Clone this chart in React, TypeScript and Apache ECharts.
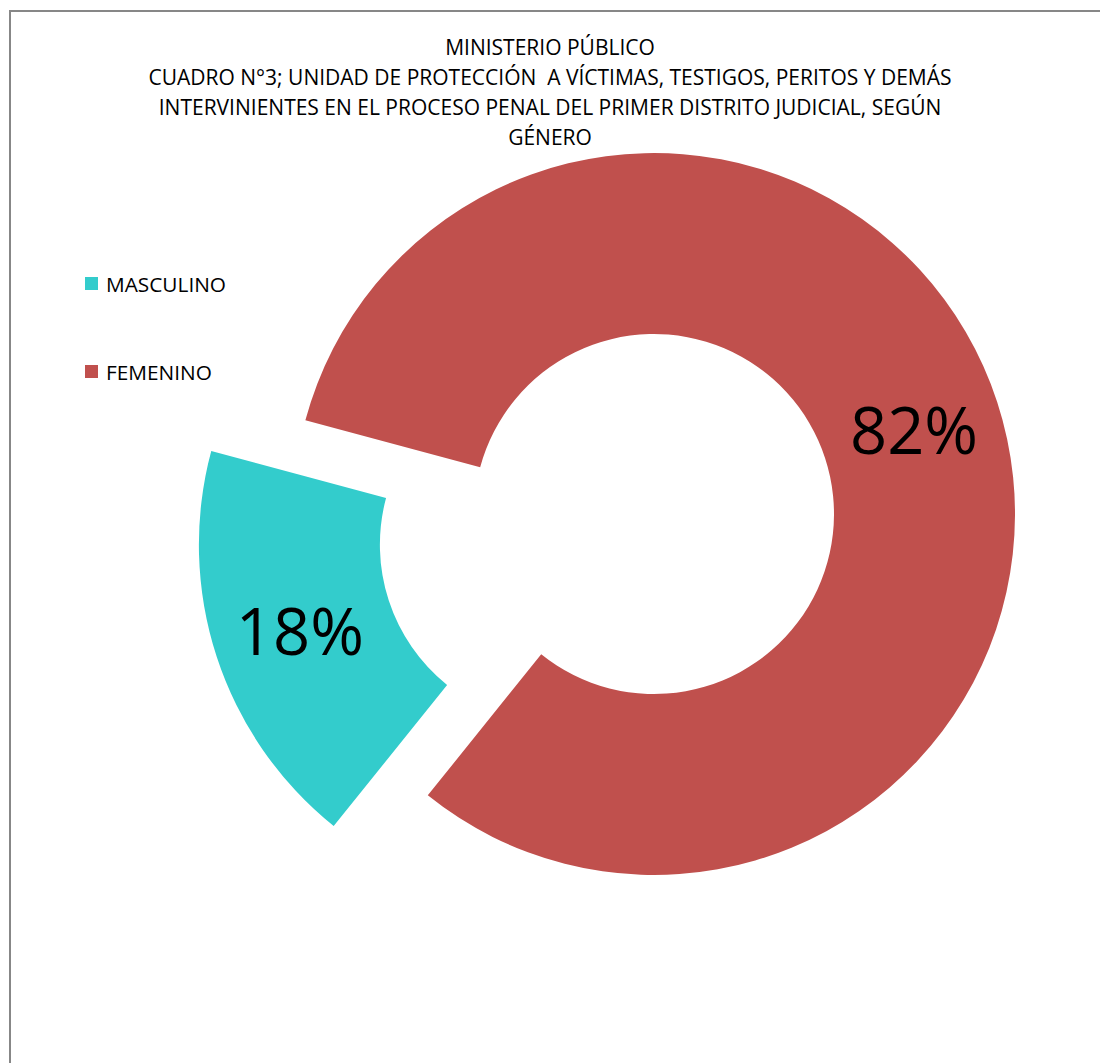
import React, { useEffect, useRef } from "react";
import * as echarts from "echarts";

const titleLines = [
  "MINISTERIO PÚBLICO",
  "CUADRO N°3; UNIDAD DE PROTECCIÓN  A VÍCTIMAS, TESTIGOS, PERITOS Y DEMÁS",
  "INTERVINIENTES EN EL PROCESO PENAL DEL PRIMER DISTRITO JUDICIAL, SEGÚN",
  "GÉNERO",
];
const categories = ["MASCULINO", "FEMENINO"];
const values = [18.4, 81.6];
const colors = ["#33CCCC", "#C0504D"];

const FONT = "'Open Sans', sans-serif";

export default function App() {
  const ref = useRef<HTMLDivElement>(null);
  useEffect(() => {
    if (!ref.current) return;
    const chart = echarts.init(ref.current, null, { renderer: "svg" });
    chart.setOption({
      animation: false,
      backgroundColor: "#ffffff",
      title: {
        text: titleLines.join("\n"),
        left: "center",
        top: 32,
        padding: 0,
        textStyle: {
          fontFamily: FONT,
          fontSize: 21,
          fontWeight: "normal",
          color: "#000000",
          lineHeight: 30,
        },
      },
      legend: {
        orient: "vertical",
        left: 85,
        top: 273,
        padding: 0,
        itemWidth: 13,
        itemHeight: 13,
        itemGap: 67,
        icon: "rect",
        selectedMode: false,
        data: categories,
        textStyle: {
          fontFamily: FONT,
          fontSize: 20.8,
          color: "#000000",
          padding: [0, 0, 0, 3],
        },
      },
      graphic: [
        {
          type: "rect",
          shape: { x: 10, y: 11, width: 1200, height: 1200 },
          style: { fill: "none", stroke: "#878787", lineWidth: 2 },
          silent: true,
          z: 100,
        },
      ],
      series: [
        {
          type: "pie",
          center: [654, 514],
          radius: [180, 361],
          startAngle: 231.2,
          clockwise: true,
          selectedMode: "multiple",
          selectedOffset: 99,
          avoidLabelOverlap: false,
          label: {
            show: true,
            position: "inside",
            fontFamily: FONT,
            fontSize: 65,
            color: "#000000",
            formatter: (p: any) => Math.round(p.percent) + "%",
          },
          labelLine: { show: false },
          emphasis: { disabled: true },
          data: categories.map((c, i) => ({
            name: c,
            value: values[i],
            selected: i === 0,
            itemStyle: { color: colors[i] },
          })),
        },
      ],
    });
    return () => chart.dispose();
  }, []);
  return (
    <div
      ref={ref}
      style={{ position: "fixed", left: 0, top: 0, width: 1100, height: 1063 }}
    />
  );
}
